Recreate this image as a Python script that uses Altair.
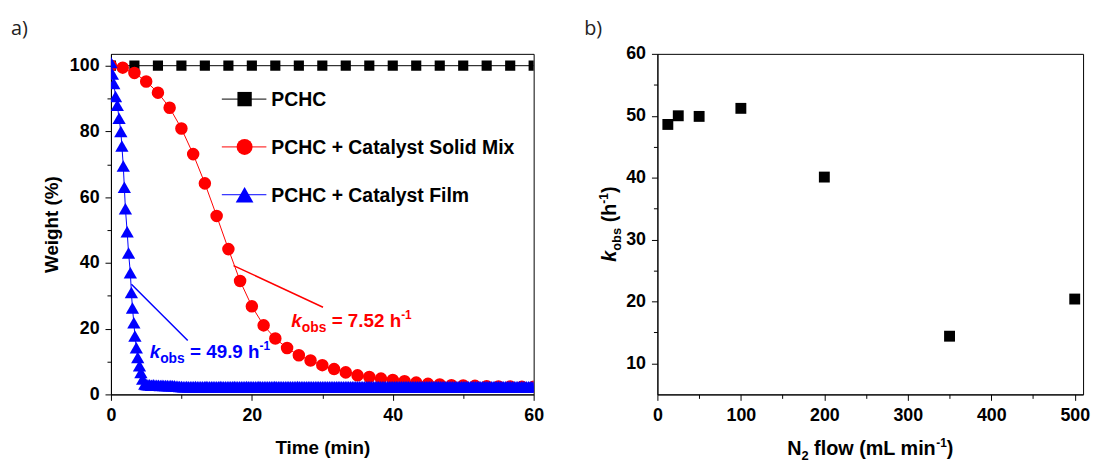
import altair as alt
import pandas as pd

FONT = "Liberation Sans"

# ---------------- panel a data ----------------
pchc_t = [0, 3.33, 6.67, 10, 13.33, 16.67, 20, 23.33, 26.67, 30, 33.33, 36.67,
          40, 43.33, 46.67, 50, 53.33, 56.67, 60]
pchc_w = [100, 100, 100, 100, 100, 100, 100, 100, 100, 100, 100, 100,
          100, 100, 100, 100, 100, 100, 100]

mix_t = [0, 1.67, 3.33, 5, 6.67, 8.33, 10, 11.67, 13.33, 15, 16.67, 18.33, 20,
         21.67, 23.33, 25, 26.67, 28.33, 30, 31.67, 33.33, 35, 36.67, 38.33, 40,
         41.67, 43.33, 45, 46.67, 48.33, 50, 51.67, 53.33, 55, 56.67, 58.33, 60]
mix_w = [100, 99.4, 97.8, 95.2, 91.8, 87.2, 80.9, 73.1, 64.2, 54.3, 44.2, 34.5, 26.8,
         21.0, 17.0, 14.1, 11.9, 10.3, 8.9, 7.7, 6.7, 5.8, 5.3, 4.8, 4.4,
         4.0, 3.6, 3.2, 3.0, 2.8, 2.7, 2.6, 2.5, 2.4, 2.4, 2.3, 2.3]

film_t_decay = [0, 0.2, 0.4, 0.65, 0.9, 1.15, 1.4, 1.55, 1.75, 1.9, 2.05, 2.3,
                2.5, 2.75, 2.9, 3.05, 3.25, 3.4, 3.6, 3.8, 4.05, 4.25, 4.5, 4.8]
film_w_decay = [101, 97.5, 94.6, 90.6, 88.0, 84.0, 80.0, 75.6, 69.5, 63.0, 56.5, 49.5,
                43.0, 37.0, 31.0, 26.3, 21.8, 17.8, 14.2, 11.2, 8.7, 6.7, 4.7, 3.2]

film_t_tail = [
    5, 5.25, 5.5, 5.75, 6, 6.25, 6.5, 6.75, 7, 7.25, 7.5, 7.75, 8, 8.25, 8.5, 8.75, 9, 9.25, 9.5, 9.75,
    10, 10.25, 10.5, 10.75, 11, 11.25, 11.5, 11.75, 12, 12.25, 12.5, 12.75, 13, 13.25, 13.5, 13.75, 14, 14.25, 14.5, 14.75,
    15, 15.25, 15.5, 15.75, 16, 16.25, 16.5, 16.75, 17, 17.25, 17.5, 17.75, 18, 18.25, 18.5, 18.75, 19, 19.25, 19.5, 19.75,
    20, 20.25, 20.5, 20.75, 21, 21.25, 21.5, 21.75, 22, 22.25, 22.5, 22.75, 23, 23.25, 23.5, 23.75, 24, 24.25, 24.5, 24.75,
    25, 25.25, 25.5, 25.75, 26, 26.25, 26.5, 26.75, 27, 27.25, 27.5, 27.75, 28, 28.25, 28.5, 28.75, 29, 29.25, 29.5, 29.75,
    30, 30.25, 30.5, 30.75, 31, 31.25, 31.5, 31.75, 32, 32.25, 32.5, 32.75, 33, 33.25, 33.5, 33.75, 34, 34.25, 34.5, 34.75,
    35, 35.25, 35.5, 35.75, 36, 36.25, 36.5, 36.75, 37, 37.25, 37.5, 37.75, 38, 38.25, 38.5, 38.75, 39, 39.25, 39.5, 39.75,
    40, 40.25, 40.5, 40.75, 41, 41.25, 41.5, 41.75, 42, 42.25, 42.5, 42.75, 43, 43.25, 43.5, 43.75, 44, 44.25, 44.5, 44.75,
    45, 45.25, 45.5, 45.75, 46, 46.25, 46.5, 46.75, 47, 47.25, 47.5, 47.75, 48, 48.25, 48.5, 48.75, 49, 49.25, 49.5, 49.75,
    50, 50.25, 50.5, 50.75, 51, 51.25, 51.5, 51.75, 52, 52.25, 52.5, 52.75, 53, 53.25, 53.5, 53.75, 54, 54.25, 54.5, 54.75,
    55, 55.25, 55.5, 55.75, 56, 56.25, 56.5, 56.75, 57, 57.25, 57.5, 57.75, 58, 58.25, 58.5, 58.75, 59, 59.25, 59.5, 59.75,
    60]
film_w_tail = [
    3.0, 2.9, 2.9, 2.8, 2.9, 2.8, 2.8, 2.8, 2.7, 2.8, 2.7, 2.7, 2.7, 2.6, 2.7, 2.6, 2.6, 2.5, 2.5, 2.4,
    2.4, 2.3, 2.3, 2.4, 2.3, 2.3, 2.3, 2.3, 2.4, 2.3, 2.3, 2.3, 2.3, 2.3, 2.4, 2.3, 2.3, 2.3, 2.3, 2.3,
    2.3, 2.3, 2.4, 2.3, 2.3, 2.3, 2.3, 2.3, 2.3, 2.3, 2.4, 2.3, 2.3, 2.3, 2.3, 2.3, 2.3, 2.4, 2.3, 2.3,
    2.3, 2.3, 2.3, 2.3, 2.4, 2.3, 2.3, 2.3, 2.3, 2.3, 2.3, 2.3, 2.3, 2.4, 2.3, 2.3, 2.3, 2.3, 2.3, 2.3,
    2.3, 2.3, 2.3, 2.3, 2.3, 2.3, 2.4, 2.3, 2.3, 2.3, 2.3, 2.3, 2.3, 2.3, 2.3, 2.3, 2.3, 2.3, 2.3, 2.3,
    2.3, 2.3, 2.3, 2.3, 2.3, 2.3, 2.3, 2.3, 2.3, 2.3, 2.3, 2.3, 2.3, 2.3, 2.3, 2.3, 2.3, 2.3, 2.3, 2.3,
    2.3, 2.3, 2.3, 2.3, 2.3, 2.3, 2.3, 2.3, 2.3, 2.3, 2.3, 2.3, 2.3, 2.3, 2.3, 2.3, 2.3, 2.3, 2.3, 2.3,
    2.3, 2.3, 2.3, 2.3, 2.3, 2.3, 2.3, 2.3, 2.3, 2.3, 2.3, 2.3, 2.3, 2.3, 2.3, 2.3, 2.3, 2.3, 2.3, 2.3,
    2.3, 2.3, 2.3, 2.3, 2.3, 2.3, 2.3, 2.3, 2.3, 2.3, 2.3, 2.3, 2.3, 2.3, 2.3, 2.3, 2.3, 2.3, 2.3, 2.3,
    2.3, 2.3, 2.3, 2.3, 2.3, 2.3, 2.3, 2.3, 2.3, 2.3, 2.3, 2.3, 2.3, 2.3, 2.3, 2.3, 2.3, 2.3, 2.3, 2.3,
    2.3, 2.3, 2.3, 2.3, 2.3, 2.3, 2.3, 2.3, 2.3, 2.3, 2.3, 2.3, 2.3, 2.3, 2.3, 2.3, 2.3, 2.3, 2.3, 2.3,
    2.3]

legend_labels = ["PCHC", "PCHC + Catalyst Solid Mix", "PCHC + Catalyst Film"]
legend_colors = ["black", "red", "blue"]
legend_shapes = ["square", "circle", "triangle-up"]

# fitted-rate annotation lines (start/end in data units) and label anchors
ann_x1 = [17.4, 2.9]
ann_y1 = [39.2, 33.5]
ann_x2 = [30.1, 10.9]
ann_y2 = [26.5, 16.4]
ann_colors = ["red", "blue"]
ann_rates = ["7.52", "49.9"]
ann_text_x = [25.6, 5.5]
ann_text_y = [20.6, 11.0]

# ---------------- panel b data ----------------
flow = [12.5, 25, 50, 100, 200, 350, 500]
kobs = [48.6, 50.0, 49.9, 51.2, 40.1, 14.4, 20.4]

# ---------------- layout ----------------
W1, W2, H = 427, 430, 344

ADV = {' ': 278, '(': 333, ')': 333, '+': 584, '-': 333, '.': 278, '=': 584, '%': 889,
       'N': 722, 'L': 611, 'a': 556, 'b': 611, 'f': 333, 'h': 611, 'i': 278, 'k': 556,
       'l': 278, 'm': 889, 'n': 611, 'o': 611, 's': 556, 'w': 778}
for _d in "0123456789":
    ADV[_d] = 556


def seg_width(t, size):
    return sum(ADV.get(c, 556) for c in t) / 1000.0 * size


ONE = pd.DataFrame({"o": [0]})


def rich(src, enc, segments, color, angle=0, center=False):
    total = sum(seg_width(t, s) for t, s, _, _ in segments)
    off = -total / 2.0 if center else 0.0
    out = []
    for t, s, shift, ital in segments:
        body = t.strip(" ")
        lead = len(t) - len(t.lstrip(" "))
        start = off + lead * seg_width(" ", s)
        mk = dict(text=body, font=FONT, fontSize=s, fontWeight="bold",
                  fontStyle="italic" if ital else "normal", color=color,
                  align="left", baseline="alphabetic", dx=round(start, 2), dy=-shift)
        if angle:
            mk["angle"] = angle
        out.append(alt.Chart(src).mark_text(**mk).encode(**enc))
        off += seg_width(t, s)
    return out


def minor_axis(major, values, title_pad=10):
    return alt.Axis(values=values,
                    labelExpr=f"datum.value % {major} === 0 ? datum.label : ''",
                    tickSize={"condition": {"test": f"datum.value % {major} !== 0", "value": 4},
                              "value": 6},
                    labelFlush=False, labelOverlap=False, grid=False,
                    titlePadding=title_pad)


xa_scale = alt.Scale(domain=[0, 60], nice=False, zero=False)
ya_scale = alt.Scale(domain=[0, 103.6], nice=False, zero=False)
xa_axis = minor_axis(20, [0, 10, 20, 30, 40, 50, 60], title_pad=15)
ya_axis = minor_axis(20, [0, 10, 20, 30, 40, 50, 60, 70, 80, 90, 100], title_pad=8)


def XA(f):
    return alt.X(f, type="quantitative", scale=xa_scale, axis=xa_axis, title="Time (min)")


def YA(f):
    return alt.Y(f, type="quantitative", scale=ya_scale, axis=ya_axis, title="Weight (%)")


df_pchc = pd.DataFrame({"t": pchc_t, "w": pchc_w})
df_mix = pd.DataFrame({"t": mix_t, "w": mix_w})
df_film = pd.DataFrame({"t": film_t_decay + film_t_tail, "w": film_w_decay + film_w_tail})


def series(df, color, shape, size):
    line = alt.Chart(df).mark_line(color=color, strokeWidth=1, clip=True).encode(
        x=XA("t"), y=YA("w"))
    pts = alt.Chart(df).mark_point(shape=shape, filled=True, size=size, color=color,
                                   opacity=1, strokeWidth=0, clip=True).encode(
        x=XA("t"), y=YA("w"))
    return [line, pts]


layers_a = []
layers_a += series(df_pchc, "black", "square", 105)
layers_a += series(df_mix, "red", "circle", 160)
layers_a += series(df_film, "blue", "triangle-up", 180)

df_ann = pd.DataFrame({"x": ann_x1, "y": ann_y1, "x2": ann_x2, "y2": ann_y2,
                       "c": ann_colors})
layers_a.append(alt.Chart(df_ann).mark_rule(strokeWidth=1.5).encode(
    x=XA("x"), y=YA("y"), x2="x2:Q", y2="y2:Q",
    color=alt.Color("c:N", scale=None)))

for i in range(2):
    src = pd.DataFrame({"x": [ann_text_x[i]], "y": [ann_text_y[i]]})
    segs = [("k", 19, 0, True), ("obs", 14, -5, False),
            (f" = {ann_rates[i]} h", 19, 0, False), ("-1", 12, 8, False)]
    layers_a += rich(src, dict(x=XA("x"), y=YA("y")), segs, ann_colors[i])

# legend (drawn inside the plot area)
LEG_Y = [45.7, 94.0, 142.3]
LEG_SIZES = [210, 260, 320]
for i in range(3):
    layers_a.append(alt.Chart(ONE).mark_rule(color=legend_colors[i], strokeWidth=1).encode(
        x=alt.value(112), x2=alt.value(157), y=alt.value(LEG_Y[i])))
    layers_a.append(alt.Chart(ONE).mark_point(shape=legend_shapes[i], filled=True,
                                              size=LEG_SIZES[i], color=legend_colors[i],
                                              opacity=1, strokeWidth=0).encode(
        x=alt.value(135), y=alt.value(LEG_Y[i])))
    layers_a.append(alt.Chart(ONE).mark_text(text=legend_labels[i], font=FONT, fontSize=19.6,
                                             fontWeight="bold", color="black", align="left",
                                             baseline="middle").encode(
        x=alt.value(162), y=alt.value(LEG_Y[i] + 1)))

layers_a.append(alt.Chart(ONE).mark_text(text="a)", font="Open Sans", fontSize=20,
                                         color="#222222", align="left",
                                         baseline="middle").encode(
    x=alt.value(-101), y=alt.value(-25)))

panel_a = alt.layer(*layers_a).properties(width=W1, height=H)

# ---------------- panel b ----------------
xb_scale = alt.Scale(domain=[0, 510], nice=False, zero=False)
yb_scale = alt.Scale(domain=[5, 60], nice=False, zero=False)
xb_axis = minor_axis(100, [0, 50, 100, 150, 200, 250, 300, 350, 400, 450, 500])
yb_axis = minor_axis(10, [10, 15, 20, 25, 30, 35, 40, 45, 50, 55, 60])

df_b = pd.DataFrame({"flow": flow, "k": kobs})
layers_b = [alt.Chart(df_b).mark_point(shape="square", filled=True, size=121, color="black",
                                       opacity=1, strokeWidth=0).encode(
    x=alt.X("flow:Q", scale=xb_scale, axis=xb_axis, title=None),
    y=alt.Y("k:Q", scale=yb_scale, axis=yb_axis, title=None))]

layers_b += rich(ONE, dict(x=alt.value(-42), y=alt.value(H / 2)),
                 [("k", 20, 0, True), ("obs", 13, -5, False), (" (h", 20, 0, False),
                  ("-1", 12, 8, False), (")", 20, 0, False)],
                 "black", angle=270, center=True)
layers_b += rich(ONE, dict(x=alt.value(W2 / 2), y=alt.value(405)),
                 [("N", 20, 0, False), ("2", 13, -5, False), (" flow (mL min", 20, 0, False),
                  ("-1", 12, 8, False), (")", 20, 0, False)],
                 "black", center=True)
layers_b.append(alt.Chart(ONE).mark_text(text="b)", font="Open Sans", fontSize=20,
                                         color="#222222", align="left",
                                         baseline="middle").encode(
    x=alt.value(-74), y=alt.value(-25)))

panel_b = alt.layer(*layers_b).properties(width=W2, height=H)

chart = alt.hconcat(panel_a, panel_b, spacing=39).properties(
    padding={"left": 2, "top": 8, "right": 0, "bottom": 0}
).configure_axis(
    domainColor="black", domainWidth=1, tickColor="black", tickWidth=1,
    labelColor="black", titleColor="black", labelFont=FONT, titleFont=FONT,
    labelFontSize=18, titleFontSize=19, labelFontWeight="bold", titleFontWeight="bold",
    labelPadding=6
).configure_view(stroke="black", strokeWidth=1)

chart.save("out.html", embed_options={"renderer": "svg", "actions": False})
